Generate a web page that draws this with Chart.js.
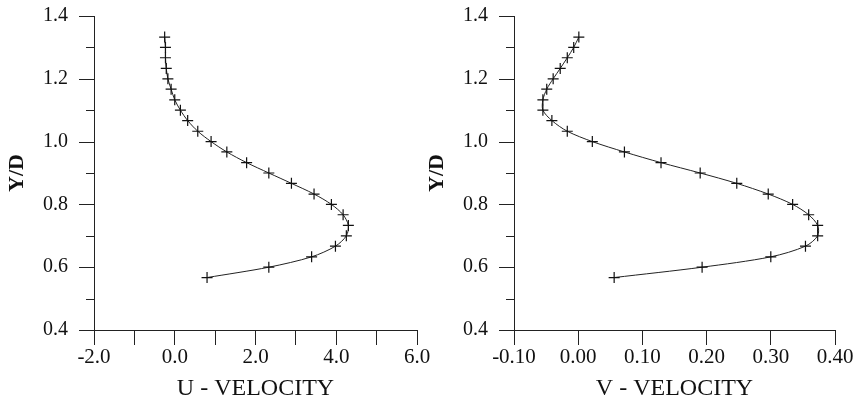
<!DOCTYPE html>
<html>
<head>
<meta charset="utf-8">
<script src="https://cdn.jsdelivr.net/npm/chart.js@4/dist/chart.umd.min.js"></script>
<style>
  body { margin: 0; background: #fff; }
  #wrap { position: relative; width: 865px; height: 407px; background: #fff; }
  .box { position: absolute; top: 0; height: 407px; }
  #boxU { left: 0; width: 440px; }
  #boxV { left: 420px; width: 445px; }
</style>
</head>
<body>
<div id="wrap">
  <div class="box" id="boxU"><canvas id="uChart"></canvas></div>
  <div class="box" id="boxV"><canvas id="vChart"></canvas></div>
</div>
<script>
// Y/D positions of the measurement stations (bottom to top)
const yStations = [0.567, 0.600, 0.633, 0.667, 0.700, 0.733, 0.767, 0.800, 0.833, 0.867, 0.900, 0.933,
                   0.967, 1.000, 1.033, 1.067, 1.100, 1.133, 1.167, 1.200, 1.233, 1.267, 1.300, 1.333];
const uVelocity = [0.80, 2.33, 3.39, 3.98, 4.25, 4.30, 4.17, 3.88, 3.45, 2.89, 2.33, 1.78,
                   1.29, 0.90, 0.57, 0.32, 0.14, 0.00, -0.09, -0.17, -0.21, -0.23, -0.23, -0.25];
const vVelocity = [0.056, 0.193, 0.300, 0.354, 0.373, 0.373, 0.359, 0.334, 0.296, 0.247, 0.190, 0.129,
                   0.072, 0.022, -0.017, -0.041, -0.055, -0.055, -0.049, -0.039, -0.028, -0.017, -0.007, 0.001];

const serif = "'Liberation Serif', 'DejaVu Serif', serif";

// y axis: long ticks at labelled values, short ones in between
const yTickMarks = {
    id: 'yTickMarks',
    afterDraw(chart) {
        const scale = chart.scales.y;
        const ctx = chart.ctx;
        ctx.save();
        ctx.strokeStyle = '#222';
        ctx.lineWidth = 1;
        scale.ticks.forEach(t => {
            const py = Math.round(scale.getPixelForValue(t.value)) + 0.5;
            const len = Math.round(t.value * 10) % 2 === 0 ? 15 : 8;
            ctx.beginPath();
            ctx.moveTo(scale.right - len, py);
            ctx.lineTo(scale.right, py);
            ctx.stroke();
        });
        ctx.restore();
    }
};

function makeChart(id, xs, opts) {
    const points = xs.map((x, i) => ({ x: x, y: yStations[i] }));
    return new Chart(document.getElementById(id).getContext('2d'), {
        type: 'scatter',
        data: {
            datasets: [{
                data: points,
                showLine: true,
                tension: 0.3,
                borderColor: '#222',
                borderWidth: 1,
                pointStyle: 'cross',
                pointRadius: 5.5,
                pointBorderWidth: 1.2,
                pointBorderColor: '#111',
                pointBackgroundColor: '#111'
            }]
        },
        options: {
            responsive: true,
            maintainAspectRatio: false,
            animation: false,
            layout: { padding: { top: 16, right: opts.padRight, bottom: 0, left: 0 } },
            plugins: { legend: { display: false }, tooltip: { enabled: false } },
            scales: {
                x: {
                    type: 'linear',
                    min: opts.min,
                    max: opts.max,
                    afterFit: s => { s.height = 77; s.paddingLeft = 0; s.paddingRight = 0; },
                    border: { color: '#222', width: 1 },
                    grid: { drawOnChartArea: false, tickLength: 15, color: '#222' },
                    ticks: {
                        stepSize: opts.step,
                        autoSkip: false,
                        maxRotation: 0,
                        padding: 0,
                        color: '#111',
                        font: { family: serif, size: 21 },
                        callback: opts.label
                    },
                    title: {
                        display: true,
                        text: opts.title,
                        color: '#111',
                        padding: { top: 0, bottom: 4 },
                        font: { family: serif, size: 24 }
                    }
                },
                y: {
                    type: 'linear',
                    min: 0.4,
                    max: 1.4,
                    afterFit: s => { s.width = 94; s.paddingTop = 0; s.paddingBottom = 0; },
                    border: { color: '#222', width: 1 },
                    grid: { drawOnChartArea: false, tickLength: 15, tickColor: 'rgba(0,0,0,0)' },
                    ticks: {
                        stepSize: 0.1,
                        autoSkip: false,
                        padding: 11,
                        color: '#111',
                        font: { family: serif, size: 20 },
                        callback: v => Math.round(v * 10) % 2 === 0 ? v.toFixed(1) : ''
                    },
                    title: {
                        display: true,
                        text: 'Y/D',
                        color: '#111',
                        padding: { top: 4, bottom: 0 },
                        font: { family: serif, size: 22, weight: 'bold' }
                    }
                }
            }
        },
        plugins: [yTickMarks]
    });
}

makeChart('uChart', uVelocity, {
    min: -2, max: 6, step: 1, padRight: 23, title: 'U - VELOCITY',
    label: v => Math.round(v) % 2 === 0 ? v.toFixed(1) : ''
});

makeChart('vChart', vVelocity, {
    min: -0.1, max: 0.4, step: 0.1, padRight: 30, title: 'V - VELOCITY',
    label: v => (Math.abs(v) < 1e-9 ? 0 : v).toFixed(2)
});
</script>
</body>
</html>
